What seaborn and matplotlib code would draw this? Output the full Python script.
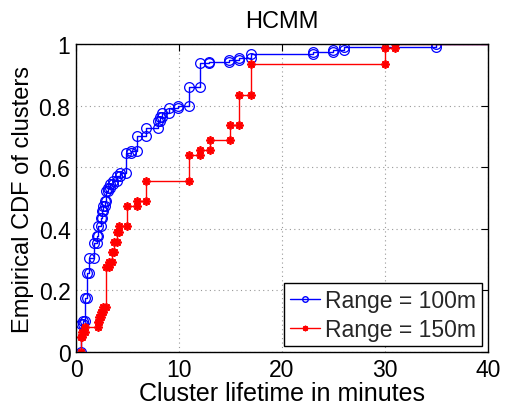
import numpy as np
import pandas as pd
import seaborn as sns
import matplotlib
matplotlib.use("Agg")
import matplotlib.pyplot as plt
from matplotlib.lines import Line2D

# ECDF jump locations (minutes) and CDF levels
blue_x = [0.45, 0.65, 0.85, 1.05, 1.3, 1.75, 2.0, 2.15, 2.4, 2.55, 2.65, 2.8, 2.95,
          3.1, 3.3, 3.6, 3.95, 4.3, 4.9, 5.3, 5.95, 6.8, 8.0, 8.2, 8.4, 9.0, 9.9,
          11.0, 12.0, 12.9, 14.9, 15.8, 17.0, 23.0, 25.0, 26.0, 35.0]
blue_cdf = [0.09, 0.10, 0.176, 0.257, 0.304, 0.354, 0.378, 0.41, 0.434, 0.459, 0.475,
            0.491, 0.524, 0.532, 0.545, 0.556, 0.572, 0.58, 0.645, 0.654, 0.702, 0.726,
            0.751, 0.762, 0.776, 0.791, 0.80, 0.862, 0.937, 0.942, 0.948, 0.955, 0.967,
            0.973, 0.981, 0.989, 1.0]

red_x = [0.45, 0.6, 0.85, 2.1, 2.25, 2.45, 2.65, 2.95, 3.2, 3.45, 3.7, 4.0, 4.2, 5.0,
         5.95, 6.8, 11.0, 12.0, 13.0, 15.0, 15.8, 17.0, 30.0, 31.0]
red_cdf = [0.048, 0.064, 0.08, 0.098, 0.113, 0.129, 0.145, 0.275, 0.291, 0.324, 0.358,
           0.389, 0.41, 0.475, 0.491, 0.556, 0.64, 0.657, 0.688, 0.738, 0.835, 0.935,
           0.986, 1.0]

series_names = ["Range = 100m", "Range = 150m"]
x_ticks = [0, 10, 20, 30, 40]
y_ticks = [0, 0.2, 0.4, 0.6, 0.8, 1.0]
y_tick_labels = ["0", "0.2", "0.4", "0.6", "0.8", "1"]
x_max = 40


def stair_vertices(xs, fs, xend):
    vx, vy = [], []
    prev = 0.0
    for x, f in zip(xs, fs):
        vx += [x, x]
        vy += [prev, f]
        prev = f
    vx.append(xend)
    vy.append(prev)
    return pd.DataFrame({"x": vx, "y": vy})


sns.set_theme(style="white")
plt.rcParams["font.family"] = ["Liberation Sans", "DejaVu Sans"]

fig = plt.figure(figsize=(5.05, 4.06), dpi=100)
ax = fig.add_axes([0.1505, 0.1305, 0.8155, 0.7585])

df_b = stair_vertices(blue_x, blue_cdf, x_max)
df_r = stair_vertices(red_x, red_cdf, x_max)

sns.lineplot(data=df_b, x="x", y="y", sort=False, estimator=None, ax=ax,
             color=(0, 0, 1), lw=1.0, marker="o", markersize=7,
             markerfacecolor="none", markeredgecolor=(0, 0, 1), markeredgewidth=0.9,
             markevery=list(range(len(df_b) - 1)), zorder=3)
sns.lineplot(data=df_r, x="x", y="y", sort=False, estimator=None, ax=ax,
             color=(1, 0, 0), lw=1.0, marker=(8, 2, 0), markersize=6,
             markeredgecolor=(1, 0, 0), markeredgewidth=1.3,
             markevery=list(range(len(df_r) - 1)), zorder=3)

ax.set_xlim(0, x_max)
ax.set_ylim(0, 1)
ax.set_xticks(x_ticks)
ax.set_yticks(y_ticks)
ax.set_yticklabels(y_tick_labels)
ax.tick_params(direction="in", length=5, width=0.8, top=True, right=True,
               labelsize=16.5, colors="black", pad=4)
ax.grid(True, color="#999999", linestyle=(0, (1, 3)), linewidth=0.8)
for s in ax.spines.values():
    s.set_color("black")
    s.set_linewidth(1.0)
    s.set_zorder(4)

ax.set_xlabel("Cluster lifetime in minutes", fontsize=18, color="black", labelpad=0)
ax.set_ylabel("Empirical CDF of clusters", fontsize=17, color="black", labelpad=3)
ax.set_title("HCMM", fontsize=17, color="black", pad=12)

handles = [
    Line2D([], [], color=(0, 0, 1), lw=1.0, marker="o", markersize=4,
           markerfacecolor="none", markeredgecolor=(0, 0, 1)),
    Line2D([], [], color=(1, 0, 0), lw=1.0, marker=(8, 2, 0), markersize=4,
           markeredgecolor=(1, 0, 0)),
]
leg = ax.legend(handles, series_names, loc="lower right", fontsize=16.5,
                frameon=True, fancybox=False, edgecolor="black", framealpha=1,
                handlelength=1.3, handletextpad=0.25, borderpad=0.25,
                labelspacing=0.25, borderaxespad=0.25)
leg.get_frame().set_linewidth(1.0)

fig.savefig("out.png", dpi=100)
